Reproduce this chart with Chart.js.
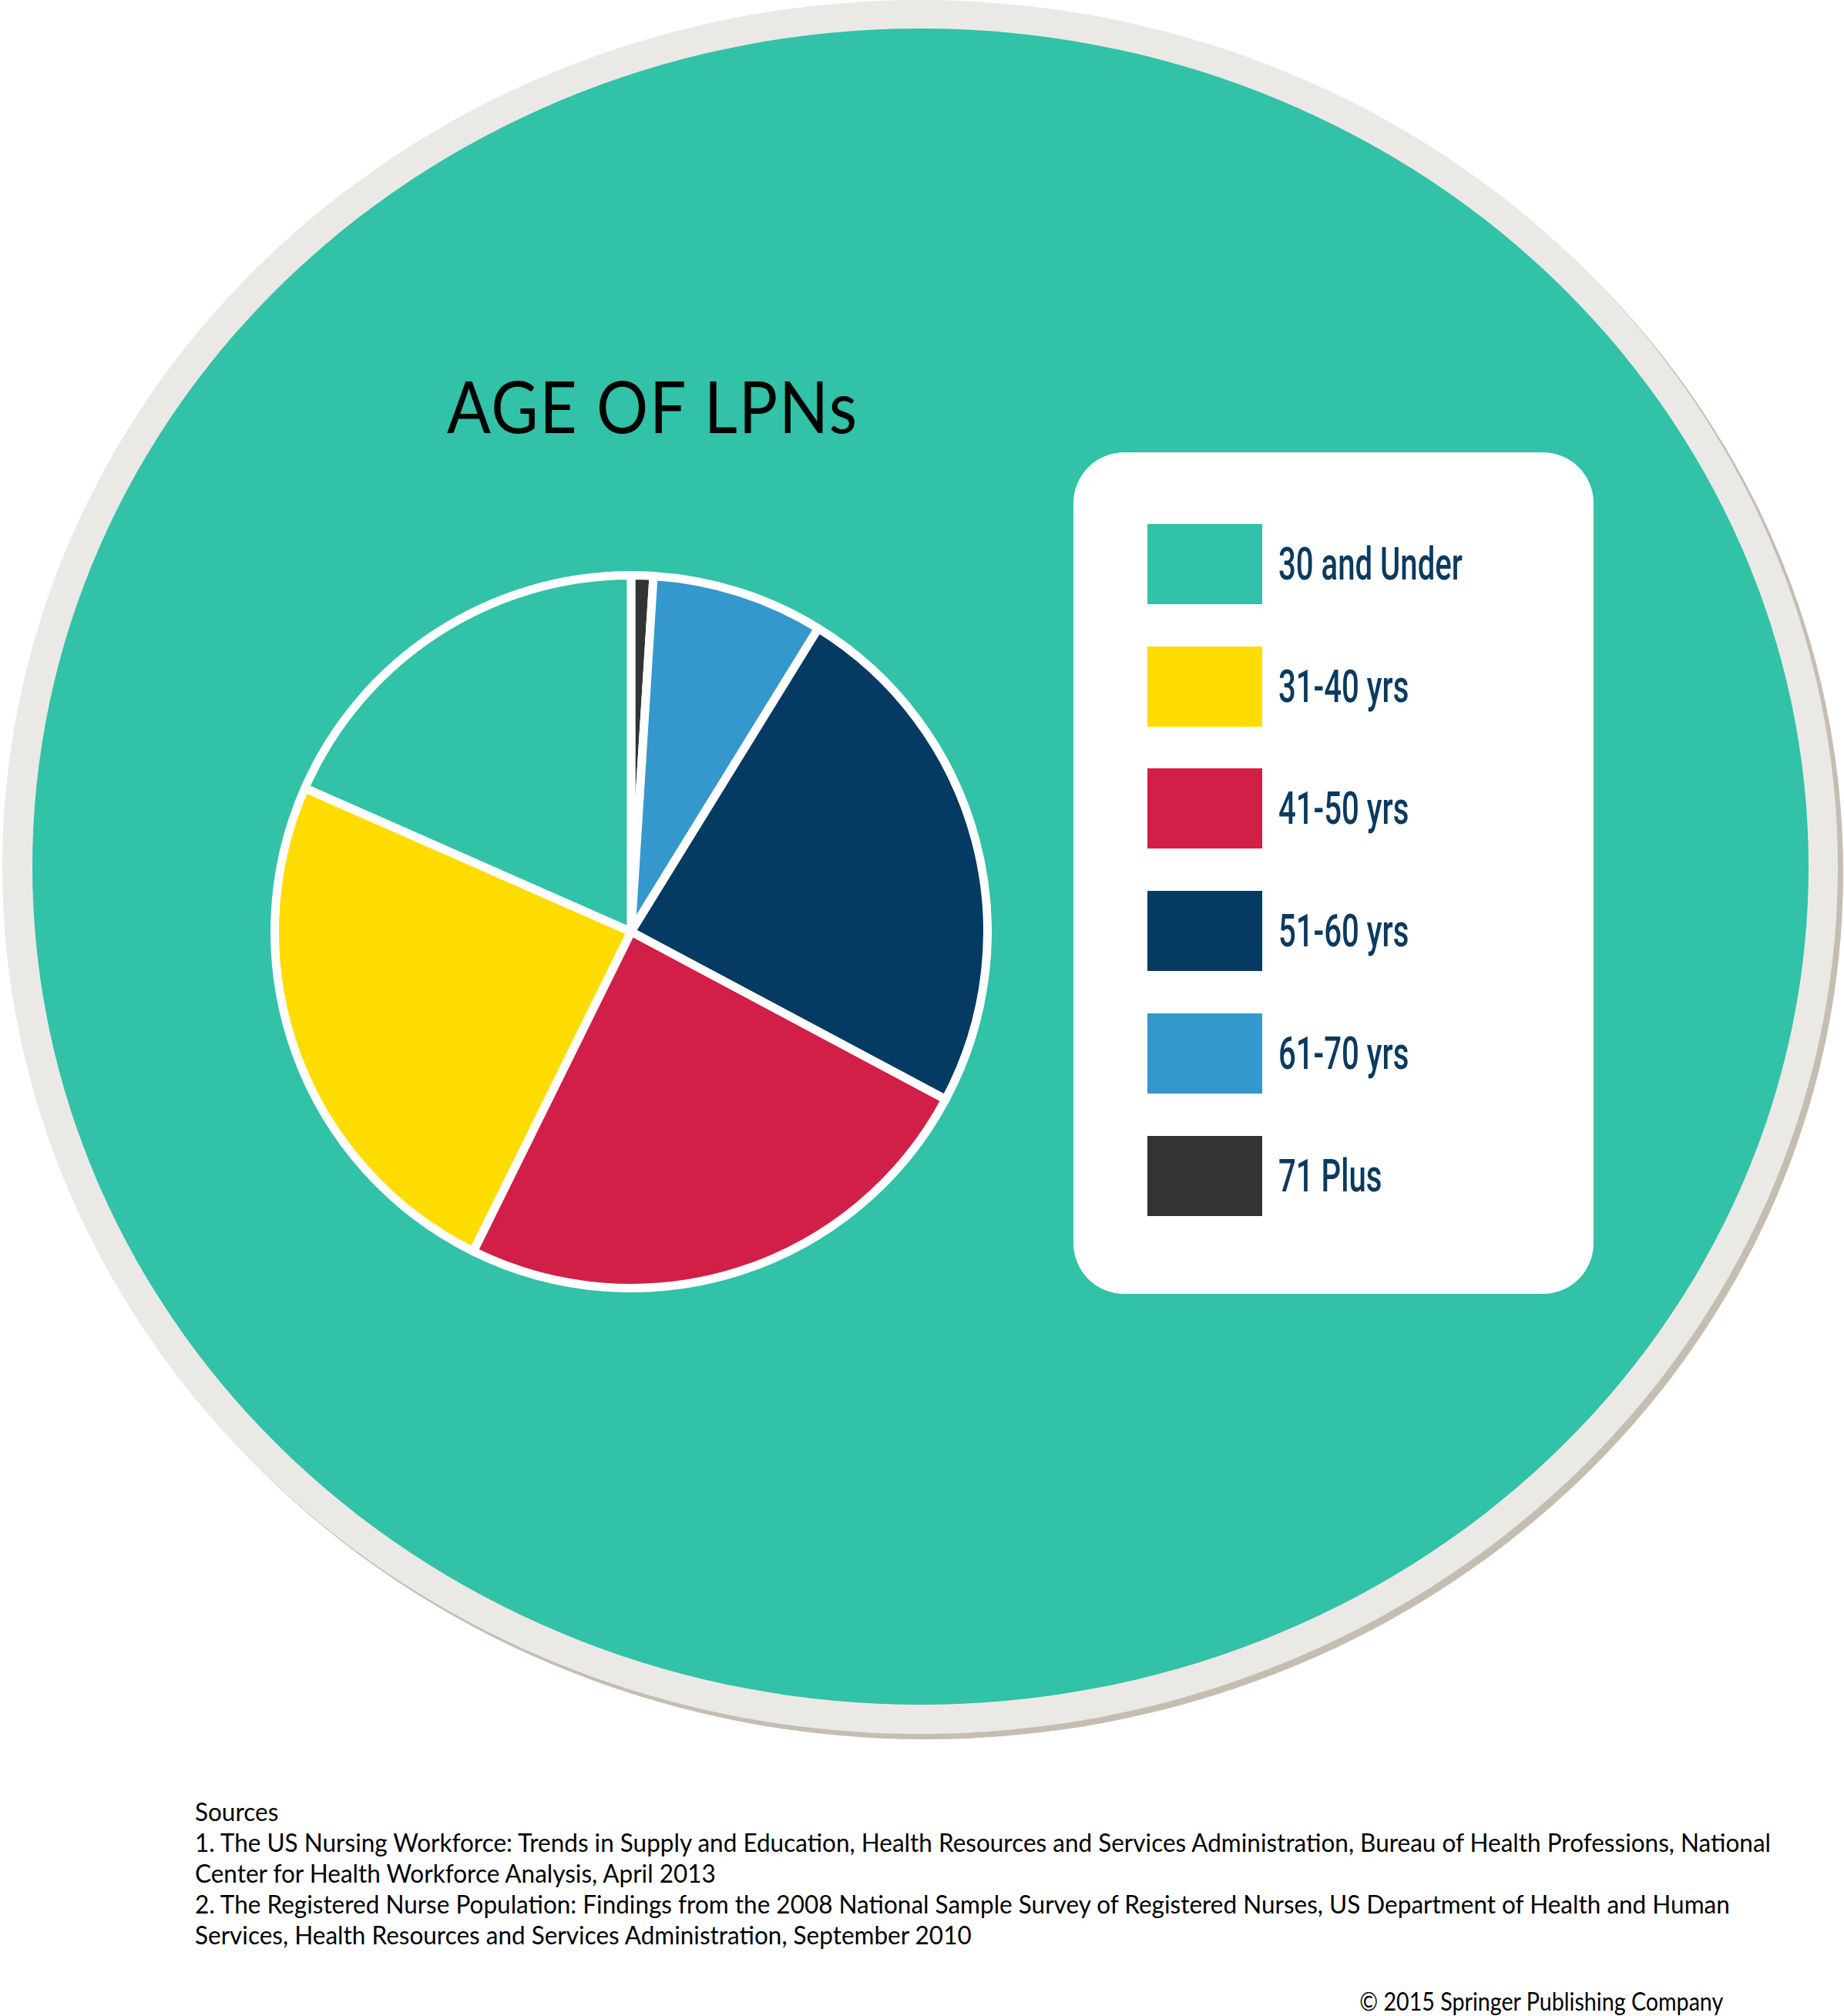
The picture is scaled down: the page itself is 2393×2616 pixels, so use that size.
<!DOCTYPE html>
<html>
<head>
<meta charset="utf-8">
<title>Age of LPNs</title>
<script src="https://cdn.jsdelivr.net/npm/chart.js@4.4.1/dist/chart.umd.min.js"></script>
<style>
  html, body { margin: 0; padding: 0; background: #fff; }
  #page { position: relative; width: 2393px; height: 2616px; overflow: hidden; }
  .ell { position: absolute; border-radius: 50%; }
  #shadow { left: 10px; top: 7px; width: 2382px; height: 2250px; background: #c6bdb2; }
  #ring { left: 3px; top: 0; width: 2382px; height: 2250px; background: #ebe9e5; }
  #disc { left: 42px; top: 37px; width: 2305px; height: 2175px; background: #31c2a8; }
  #title {
    position: absolute; top: 480px; left: 580px; white-space: nowrap;
    font-family: Lato, "Open Sans", sans-serif; font-size: 93px; line-height: 93px;
    color: #000; transform-origin: left center; letter-spacing: 2px;
  }
  #pieBox { position: absolute; left: 351px; top: 741px; width: 936px; height: 936px; }
  #legend {
    position: absolute; left: 1393px; top: 587px; width: 675px; height: 1092px;
    background: #fff; border-radius: 66px;
  }
  .item { position: absolute; left: 96px; height: 104px; display: flex; align-items: center; }
  .swatch { width: 149px; height: 104px; flex: none; }
  .label {
    margin-left: 21px; white-space: nowrap; color: #0b3a5f;
    font-family: Roboto, sans-serif; font-weight: 500; font-size: 60px; line-height: 60px;
    transform-origin: left center;
  }
  #sources {
    position: absolute; left: 253px; top: 2331px;
    font-family: Lato, sans-serif; font-size: 32px; line-height: 40px; color: #000;
    transform-origin: left top;
  }
  #sources div { white-space: nowrap; }
  #copy {
    position: absolute; right: 157px; top: 2577px; white-space: nowrap;
    font-family: Lato, sans-serif; font-size: 32px; line-height: 40px; color: #000;
    transform-origin: right top;
  }
</style>
</head>
<body>
<div id="page">
  <div id="shadow" class="ell"></div>
  <div id="ring" class="ell"></div>
  <div id="disc" class="ell"></div>
  <div id="title">AGE OF LPNs</div>
  <div id="pieBox"><canvas id="pie"></canvas></div>
  <div id="legend"></div>
  <div id="sources"></div>
  <div id="copy">© 2015 Springer Publishing Company</div>
</div>
<script>
// age groups, share of LPNs (%)
const categories = ['30 and Under', '31-40 yrs', '41-50 yrs', '51-60 yrs', '61-70 yrs', '71 Plus'];
const shares = [18.4, 24.3, 24.5, 24.0, 7.8, 1.0];
const sliceColors = ['#31c2a8', '#ffdc00', '#d11f47', '#053a63', '#3598cc', '#333333'];

const sourceLines = [
  'Sources',
  '1. The US Nursing Workforce: Trends in Supply and Education, Health Resources and Services Administration, Bureau of Health Professions, National',
  'Center for Health Workforce Analysis, April 2013',
  '2. The Registered Nurse Population: Findings from the 2008 National Sample Survey of Registered Nurses, US Department of Health and Human',
  'Services, Health Resources and Services Administration, September 2010'
];

// squeeze text horizontally to the width it has in the picture
function squeeze(el, target) {
  const s = target / el.getBoundingClientRect().width;
  el.style.transform = 'scaleX(' + s + ')';
  return s;
}

function buildLegend() {
  const box = document.getElementById('legend');
  box.innerHTML = categories.map((c, i) => `
    <div class="item" style="top:${93 + i * 158.7}px">
      <div class="swatch" style="background:${sliceColors[i]}"></div>
      <div class="label">${c}</div>
    </div>`).join('');
}

function buildSources() {
  document.getElementById('sources').innerHTML = sourceLines.map(l => `<div>${l}</div>`).join('');
}

function drawPie() {
  // slices run counter-clockwise from 12 o'clock, so feed them reversed
  const labels = [...categories].reverse();
  const values = [...shares].reverse();
  const colors = [...sliceColors].reverse();
  new Chart(document.getElementById('pie'), {
    type: 'pie',
    data: {
      labels,
      datasets: [{ data: values, backgroundColor: colors, borderColor: '#ffffff', borderWidth: 11 }]
    },
    options: {
      responsive: true,
      maintainAspectRatio: false,
      animation: false,
      layout: { padding: 0 },
      plugins: { legend: { display: false }, tooltip: { enabled: false } }
    }
  });
}

buildLegend();
buildSources();
drawPie();

document.fonts.ready.then(() => {
  squeeze(document.getElementById('title'), 534);
  const first = document.querySelector('#legend .label');
  const ls = 239 / first.getBoundingClientRect().width;
  document.querySelectorAll('#legend .label').forEach(l => { l.style.transform = 'scaleX(' + ls + ')'; });
  const line1 = document.querySelectorAll('#sources div')[1];
  const ss = 2045 / line1.getBoundingClientRect().width;
  document.getElementById('sources').style.transform = 'scaleX(' + ss + ')';
  squeeze(document.getElementById('copy'), 472);
});
</script>
</body>
</html>
